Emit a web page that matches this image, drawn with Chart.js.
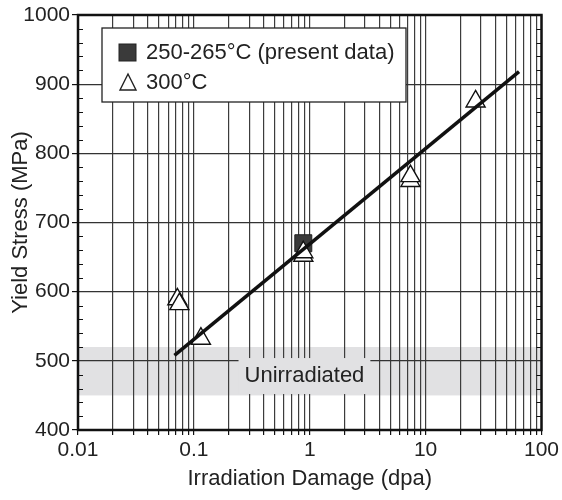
<!DOCTYPE html>
<html>
<head>
<meta charset="utf-8">
<script src="https://cdn.jsdelivr.net/npm/chart.js@4/dist/chart.umd.min.js"></script>
<style>
  html, body { margin: 0; padding: 0; background: #fff; }
  #wrap { width: 562px; height: 500px; }
</style>
</head>
<body>
<div id="wrap"><canvas id="myChart" width="562" height="500"></canvas></div>
<script>
// data
const presentDpa = [0.88];
const presentStress = [670];
const refDpa = [0.072, 0.075, 0.115, 0.88, 0.88, 7.4, 7.4, 27];
const refStress = [589, 582, 532, 652, 657, 760, 767, 875];
const fitDpa = [0.068, 64];
const fitStress = [508, 918];
const unirrLow = 450;
const unirrHigh = 520;
const legendLabels = ['250-265°C (present data)', '300°C'];
const xTickValues = [];
for (let e = -2; e <= 2; e++) {
    for (let m = 1; m <= 9; m++) {
        const v = m * Math.pow(10, e);
        if (v <= 100) xTickValues.push(v);
    }
}

const FONT = '"Liberation Sans", Arial, sans-serif';

function toPoints(xs, ys) {
    return xs.map((x, i) => ({ x: x, y: ys[i] }));
}

// grey band for unirradiated, under the grid
const bandPlugin = {
    id: 'band',
    beforeDraw(chart) {
        const { ctx, chartArea, scales } = chart;
        const top = scales.y.getPixelForValue(unirrHigh);
        const bottom = scales.y.getPixelForValue(unirrLow);
        ctx.save();
        ctx.fillStyle = '#e1e1e3';
        ctx.fillRect(chartArea.left, top, chartArea.right - chartArea.left, bottom - top);
        ctx.restore();
    },
    beforeDatasetsDraw(chart) {
        const { ctx, scales } = chart;
        const cx = scales.x.getPixelForValue(0.9);
        const cy = scales.y.getPixelForValue(478);
        ctx.save();
        ctx.font = '22px ' + FONT;
        const w = ctx.measureText('Unirradiated').width;
        ctx.fillStyle = '#e1e1e3';
        ctx.fillRect(cx - w / 2 - 6, cy - 18, w + 12, 36);
        ctx.fillStyle = '#222';
        ctx.textAlign = 'center';
        ctx.textBaseline = 'middle';
        ctx.fillText('Unirradiated', cx, cy);
        ctx.restore();
    }
};

// frame, minor y ticks and legend box
const framePlugin = {
    id: 'frame',
    afterDraw(chart) {
        const { ctx, chartArea, scales } = chart;
        ctx.save();
        ctx.strokeStyle = '#111';
        ctx.lineWidth = 1.2;
        for (let v = 400; v <= 1000; v += 20) {
            if (v % 100 === 0) continue;
            const y = Math.round(scales.y.getPixelForValue(v)) + 0.5;
            ctx.beginPath();
            ctx.moveTo(chartArea.left, y);
            ctx.lineTo(chartArea.left + 5, y);
            ctx.moveTo(chartArea.right, y);
            ctx.lineTo(chartArea.right - 5, y);
            ctx.stroke();
        }
        ctx.lineWidth = 2.5;
        ctx.strokeRect(chartArea.left, chartArea.top, chartArea.right - chartArea.left, chartArea.bottom - chartArea.top);

        // legend
        const lx = chartArea.left + 24, ly = chartArea.top + 13;
        const lw = 304, lh = 74;
        ctx.fillStyle = '#fff';
        ctx.fillRect(lx, ly, lw, lh);
        ctx.lineWidth = 1.3;
        ctx.strokeStyle = '#222';
        ctx.strokeRect(lx, ly, lw, lh);

        const rows = [ly + 24, ly + 54];
        // square
        ctx.fillStyle = '#3a3a3a';
        ctx.fillRect(lx + 17, rows[0] - 8, 17, 17);
        ctx.strokeStyle = '#222';
        ctx.lineWidth = 1;
        ctx.strokeRect(lx + 17, rows[0] - 8, 17, 17);
        // triangle
        ctx.lineWidth = 1.4;
        ctx.beginPath();
        ctx.moveTo(lx + 26, rows[1] - 8);
        ctx.lineTo(lx + 34, rows[1] + 8);
        ctx.lineTo(lx + 18, rows[1] + 8);
        ctx.closePath();
        ctx.fillStyle = '#fff';
        ctx.fill();
        ctx.stroke();

        ctx.fillStyle = '#222';
        ctx.font = '22px ' + FONT;
        ctx.textBaseline = 'middle';
        ctx.fillText(legendLabels[0], lx + 44, rows[0] + 1);
        ctx.fillText(legendLabels[1], lx + 44, rows[1] + 1);
        ctx.restore();
    }
};

const config = {
    type: 'scatter',
    data: {
        datasets: [
            {
                type: 'line',
                label: 'fit',
                data: toPoints(fitDpa, fitStress),
                borderColor: '#111',
                borderWidth: 3.5,
                pointRadius: 0,
                fill: false
            },
            {
                label: legendLabels[1],
                data: toPoints(refDpa, refStress),
                pointStyle: 'triangle',
                pointRadius: 11,
                backgroundColor: '#fff',
                borderColor: '#111',
                borderWidth: 1.4
            },
            {
                label: legendLabels[0],
                data: toPoints(presentDpa, presentStress),
                pointStyle: 'rect',
                pointRadius: 12,
                backgroundColor: '#3a3a3a',
                borderColor: '#222',
                borderWidth: 1
            }
        ]
    },
    options: {
        responsive: false,
        animation: false,
        layout: { padding: { top: 15, right: 19, left: 0, bottom: 0 } },
        plugins: {
            legend: { display: false },
            tooltip: { enabled: false }
        },
        scales: {
            x: {
                type: 'logarithmic',
                min: 0.01,
                max: 100,
                afterBuildTicks(scale) {
                    scale.ticks = xTickValues.map(v => ({ value: v }));
                },
                afterFit(scale) { scale.height = 70; },
                ticks: {
                    autoSkip: false,
                    maxRotation: 0,
                    color: '#222',
                    font: { family: FONT, size: 21 },
                    padding: 3,
                    callback(value) {
                        const l = Math.log10(value);
                        return Math.abs(l - Math.round(l)) < 1e-9 ? String(value) : '';
                    }
                },
                grid: { color: '#3c3c3c', lineWidth: 1.2, tickLength: 5, tickColor: '#111' },
                border: { display: false },
                title: {
                    display: true,
                    text: 'Irradiation Damage (dpa)',
                    color: '#222',
                    font: { family: FONT, size: 22 },
                    padding: { top: 0, bottom: 8 }
                }
            },
            y: {
                min: 400,
                max: 1000,
                afterFit(scale) { scale.width = 78; },
                ticks: {
                    stepSize: 100,
                    color: '#222',
                    font: { family: FONT, size: 21 },
                    padding: 2,
                    callback(value) { return String(value); }
                },
                grid: { color: '#333', lineWidth: 1.2, tickLength: 6, tickColor: '#111' },
                border: { display: false },
                title: {
                    display: true,
                    text: 'Yield Stress (MPa)',
                    color: '#222',
                    font: { family: FONT, size: 22 },
                    padding: { top: 8, bottom: 0 }
                }
            }
        }
    },
    plugins: [bandPlugin, framePlugin]
};

document.addEventListener('DOMContentLoaded', function () {
    new Chart(document.getElementById('myChart'), config);
});
</script>
</body>
</html>
